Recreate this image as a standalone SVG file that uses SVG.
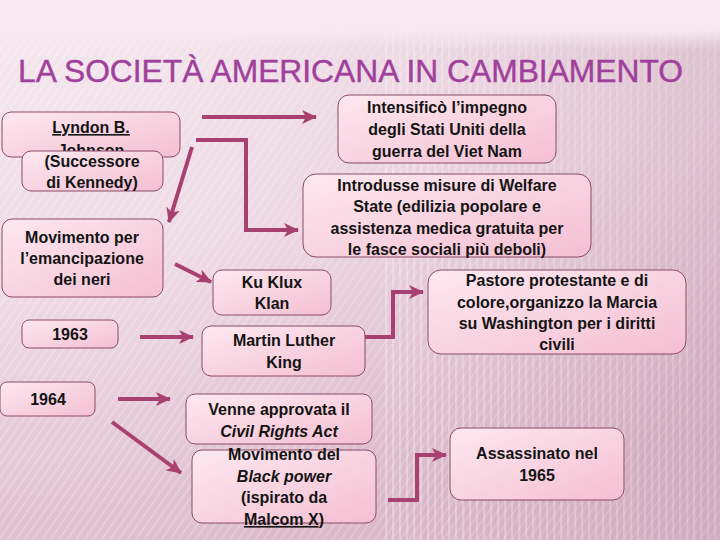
<svg xmlns="http://www.w3.org/2000/svg" width="720" height="540" viewBox="0 0 720 540">
<defs>
<linearGradient id="bg" x1="0" y1="0" x2="0.3" y2="1">
<stop offset="0" stop-color="#f5e8ef"/>
<stop offset="0.5" stop-color="#efdbe5"/>
<stop offset="1" stop-color="#dcbccb"/>
</linearGradient>
<linearGradient id="bgR" x1="0" y1="0" x2="1" y2="0">
<stop offset="0" stop-color="#ffffff" stop-opacity="0"/>
<stop offset="0.6" stop-color="#c898b0" stop-opacity="0.15"/>
<stop offset="1" stop-color="#b88aa2" stop-opacity="0.35"/>
</linearGradient>
<linearGradient id="topfade" x1="0" y1="0" x2="0" y2="1">
<stop offset="0" stop-color="#f5e8ef" stop-opacity="1"/>
<stop offset="0.6" stop-color="#f5e8ef" stop-opacity="1"/>
<stop offset="1" stop-color="#f5e8ef" stop-opacity="0"/>
</linearGradient>
<pattern id="diag" width="7" height="7" patternUnits="userSpaceOnUse" patternTransform="rotate(35)">
<line x1="0" y1="0" x2="0" y2="7" stroke="#ffffff" stroke-width="2.5" stroke-opacity="0.5"/>
</pattern>
<pattern id="vert" width="7" height="7" patternUnits="userSpaceOnUse">
<line x1="1" y1="0" x2="1" y2="7" stroke="#ffffff" stroke-width="2.5" stroke-opacity="0.35"/>
</pattern>
<linearGradient id="box" x1="0" y1="0" x2="1" y2="1">
<stop offset="0" stop-color="#fde8f0"/>
<stop offset="1" stop-color="#f4bfd2"/>
</linearGradient>
<marker id="ah" markerUnits="userSpaceOnUse" markerWidth="16" markerHeight="14" refX="14" refY="7" orient="auto">
<path d="M0,0 L15,7 L0,14 L4,7 Z" fill="#a8416f"/>
</marker>
</defs>
<style>
.n rect{fill:url(#box);stroke:#8b4a66;stroke-width:1}
.n text{font-family:"Liberation Sans",Arial,sans-serif;font-weight:bold;font-size:16px;fill:#141414;text-anchor:middle}
.c path,.c line{fill:none;stroke:#a8416f;stroke-width:4;marker-end:url(#ah)}
.title{font-family:"Liberation Sans",Arial,sans-serif;font-size:32px;fill:#a0409c;stroke:#a0409c;stroke-width:0.4}
</style>
<rect width="720" height="540" fill="url(#bg)"/>
<rect x="0" y="20" width="720" height="520" fill="url(#diag)" opacity="0.6"/>
<rect x="380" y="20" width="340" height="520" fill="url(#vert)"/>
<rect x="0" y="0" width="720" height="540" fill="url(#bgR)"/>
<rect x="0" y="0" width="720" height="50" fill="url(#topfade)"/>
<text class="title" x="18" y="82" textLength="665" lengthAdjust="spacingAndGlyphs">LA SOCIETÀ AMERICANA IN CAMBIAMENTO</text>

<g class="c">
<line x1="202" y1="117" x2="316" y2="117"/>
<path d="M196,140 H246 V230 H298"/>
<line x1="192" y1="147" x2="169" y2="222"/>
<line x1="175" y1="264" x2="211" y2="282"/>
<line x1="140" y1="337" x2="193" y2="337"/>
<line x1="118" y1="399" x2="170" y2="399"/>
<line x1="112" y1="422" x2="181" y2="473"/>
<path d="M365,337 H393 V292 H423"/>
<path d="M388,500 H417 V455 H446"/>
</g>

<g id="n-johnson" class="n">
<rect x="2" y="112" width="178" height="45" rx="9"/>
<text x="91" y="133" text-decoration="underline">Lyndon B.</text>
<text x="91" y="156">Johnson</text>
</g>
<g id="n-successore" class="n">
<rect x="22" y="151" width="141" height="40" rx="9"/>
<text x="92" y="167">(Successore</text>
<text x="92" y="188">di Kennedy)</text>
</g>
<g id="n-movimento" class="n">
<rect x="2" y="219" width="161" height="78" rx="10"/>
<text x="82" y="243">Movimento per</text>
<text x="82" y="264">l’emancipazione</text>
<text x="82" y="285">dei neri</text>
</g>
<g id="n-1963" class="n">
<rect x="22" y="320" width="96" height="28" rx="7"/>
<text x="70" y="340">1963</text>
</g>
<g id="n-1964" class="n">
<rect x="0" y="382" width="95" height="34" rx="7"/>
<text x="48" y="405">1964</text>
</g>
<g id="n-vietnam" class="n">
<rect x="338" y="95" width="218" height="68" rx="11"/>
<text x="447" y="113">Intensificò l’impegno</text>
<text x="447" y="135">degli Stati Uniti della</text>
<text x="447" y="157">guerra del Viet Nam</text>
</g>
<g id="n-welfare" class="n">
<rect x="303" y="174" width="288" height="83" rx="13"/>
<text x="447" y="191">Introdusse misure di Welfare</text>
<text x="447" y="212">State (edilizia popolare e</text>
<text x="447" y="234">assistenza medica gratuita per</text>
<text x="447" y="255">le fasce sociali più deboli)</text>
</g>
<g id="n-kkk" class="n">
<rect x="213" y="270" width="118" height="45" rx="9"/>
<text x="272" y="288">Ku Klux</text>
<text x="272" y="309">Klan</text>
</g>
<g id="n-mlk" class="n">
<rect x="202" y="326" width="163" height="50" rx="9"/>
<text x="284" y="346">Martin Luther</text>
<text x="284" y="368">King</text>
</g>
<g id="n-civilrights" class="n">
<rect x="186" y="394" width="186" height="50" rx="9"/>
<text x="279" y="415">Venne approvata il</text>
<text x="279" y="437" font-style="italic">Civil Rights Act</text>
</g>
<g id="n-blackpower" class="n">
<rect x="192" y="450" width="184" height="73" rx="10"/>
<text x="284" y="460">Movimento del</text>
<text x="284" y="482" font-style="italic">Black power</text>
<text x="284" y="503">(ispirato da</text>
<text x="284" y="525"><tspan text-decoration="underline">Malcom X</tspan>)</text>
</g>
<g id="n-pastore" class="n">
<rect x="428" y="270" width="258" height="84" rx="13"/>
<text x="557" y="286">Pastore protestante e di</text>
<text x="557" y="308">colore,organizzo la Marcia</text>
<text x="557" y="329">su Washington per i diritti</text>
<text x="557" y="350">civili</text>
</g>
<g id="n-assassinato" class="n">
<rect x="450" y="428" width="174" height="72" rx="11"/>
<text x="537" y="459">Assassinato nel</text>
<text x="537" y="481">1965</text>
</g>
</svg>
